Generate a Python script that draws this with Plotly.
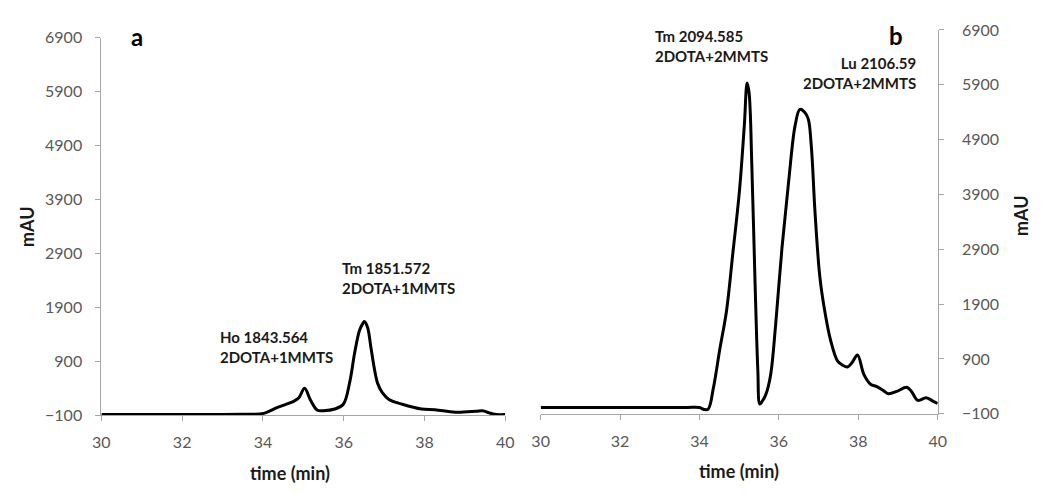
import plotly.graph_objects as go

# Chromatogram a: Ho / Tm complexes, 2DOTA+1MMTS
time_a = [30.0, 31.0, 32.0, 33.0, 33.5, 33.71, 34.02, 34.36, 34.77, 34.89, 35.03, 35.17,
          35.34, 35.50, 35.78, 35.99, 36.15, 36.27, 36.39, 36.47, 36.51, 36.59,
          36.67, 36.76, 36.84, 36.96, 37.12, 37.45, 37.93, 38.26, 38.76, 39.27,
          39.44, 39.60, 39.77, 40.0]
mau_a = [-85, -85, -85, -85, -83, -80, -65, 46, 164, 225, 400, 194,
         -2, -14, 16, 105, 520, 1056, 1473, 1600, 1640, 1532,
         1175, 760, 492, 314, 194, 105, 16, 3, -44, -26,
         -15, -56, -85, -85]

# Chromatogram b: Tm / Lu complexes, 2DOTA+2MMTS
time_b = [30.0, 31.0, 32.0, 33.0, 33.7, 34.0, 34.12, 34.22, 34.35, 34.51, 34.68, 34.84,
          35.01, 35.13, 35.20, 35.25, 35.32, 35.40, 35.47, 35.52, 35.58, 35.67,
          35.79, 35.92, 36.08, 36.25, 36.41, 36.53, 36.65, 36.74, 36.82, 36.91,
          37.03, 37.15, 37.30, 37.48, 37.60, 37.73, 37.85, 37.98, 38.14, 38.31,
          38.47, 38.62, 38.76, 38.97, 39.22, 39.34, 39.50, 39.71, 39.88, 40.0]
mau_b = [17, 17, 17, 17, 17, 15, -20, -12, 368, 1069, 1771, 2823,
         3990, 5159, 5930, 5750, 4400, 2300, 700, 80, 130, 251,
         601, 1536, 2938, 4165, 5159, 5452, 5400, 5277, 4751, 3582,
         2412, 1800, 1250, 860, 790, 755, 840, 975, 620, 440,
         396, 330, 268, 309, 386, 309, 145, 193, 133, 88]

x_ticks = [30, 32, 34, 36, 38, 40]
y_ticks = [-100, 900, 1900, 2900, 3900, 4900, 5900, 6900]

W, H = 1042, 494
TICK_FONT = dict(family="Lato", size=16, color="#595959")
LABEL_FONT = dict(family="Lato", size=18, color="#1a1a1a")
NOTE_FONT = dict(family="Lato", size=15, color="#1a1a1a")
AXIS_GREY = "#a6a6a6"

fig = go.Figure()
fig.add_trace(go.Scatter(x=time_a, y=mau_a, mode="lines", xaxis="x", yaxis="y",
                         line=dict(color="black", width=3, shape="spline", smoothing=1.0),
                         showlegend=False, hoverinfo="skip"))
fig.add_trace(go.Scatter(x=time_b, y=mau_b, mode="lines", xaxis="x2", yaxis="y2",
                         line=dict(color="black", width=3, shape="spline", smoothing=1.0),
                         showlegend=False, hoverinfo="skip"))


def px_x(v):
    return v / W


def px_y(v):
    return 1 - v / H


xcommon = dict(range=[30, 40], tickvals=x_ticks, showgrid=False, zeroline=False,
               showline=True, linecolor=AXIS_GREY, linewidth=1, ticks="outside",
               ticklen=5, tickcolor=AXIS_GREY, tickfont=TICK_FONT, ticklabelstandoff=8)
ycommon = dict(range=[-100, 6900], tickvals=y_ticks, showgrid=False, zeroline=False,
               showline=True, linecolor=AXIS_GREY, linewidth=1, ticks="outside",
               ticklen=5, tickcolor=AXIS_GREY, tickfont=TICK_FONT)

fig.update_layout(
    width=W, height=H,
    margin=dict(l=0, r=0, t=0, b=0),
    paper_bgcolor="white", plot_bgcolor="white",
    xaxis=dict(domain=[px_x(94), px_x(505)], anchor="y", **xcommon),
    yaxis=dict(domain=[px_y(421.5), px_y(29)], anchor="x", side="left",
               ticklabelstandoff=10, **ycommon),
    xaxis2=dict(domain=[px_x(541), px_x(945)], anchor="y2", **xcommon),
    yaxis2=dict(domain=[px_y(420), px_y(20.7)], anchor="x2", side="right",
                ticklabelstandoff=15, **ycommon),
)

notes = [
    # (text, x px, y px, xanchor, font)
    ("<b>a</b>", 130, 28, "center", dict(family="Lato", size=24, color="black")),
    ("<b>b</b>", 903, 27, "center", dict(family="Lato", size=24, color="black")),
    ("<b>Ho 1843.564<br>2DOTA+1MMTS</b>", 213, 350, "left", NOTE_FONT),
    ("<b>Tm 1851.572<br>2DOTA+1MMTS</b>", 337, 279, "left", NOTE_FONT),
    ("<b>Tm 2094.585<br>2DOTA+2MMTS</b>", 655, 37, "left", NOTE_FONT),
    ("<b>Lu 2106.59<br>2DOTA+2MMTS</b>", 925, 66, "right", NOTE_FONT),
    ("<b>time (min)</b>", 286, 481, "center", LABEL_FONT),
    ("<b>time (min)</b>", 743, 479, "center", LABEL_FONT),
]
for text, x, y, xa, font in notes:
    fig.add_annotation(text=text, x=px_x(x), y=px_y(y), xref="paper", yref="paper",
                       xanchor=xa, yanchor="middle", showarrow=False, font=font,
                       align=xa if xa != "center" else "center")

for x, y in [(19, 225), (1030, 214)]:
    fig.add_annotation(text="<b>mAU</b>", x=px_x(x), y=px_y(y), xref="paper", yref="paper",
                       xanchor="center", yanchor="middle", showarrow=False,
                       textangle=-90, font=LABEL_FONT)

fig.write_html("out.html")
